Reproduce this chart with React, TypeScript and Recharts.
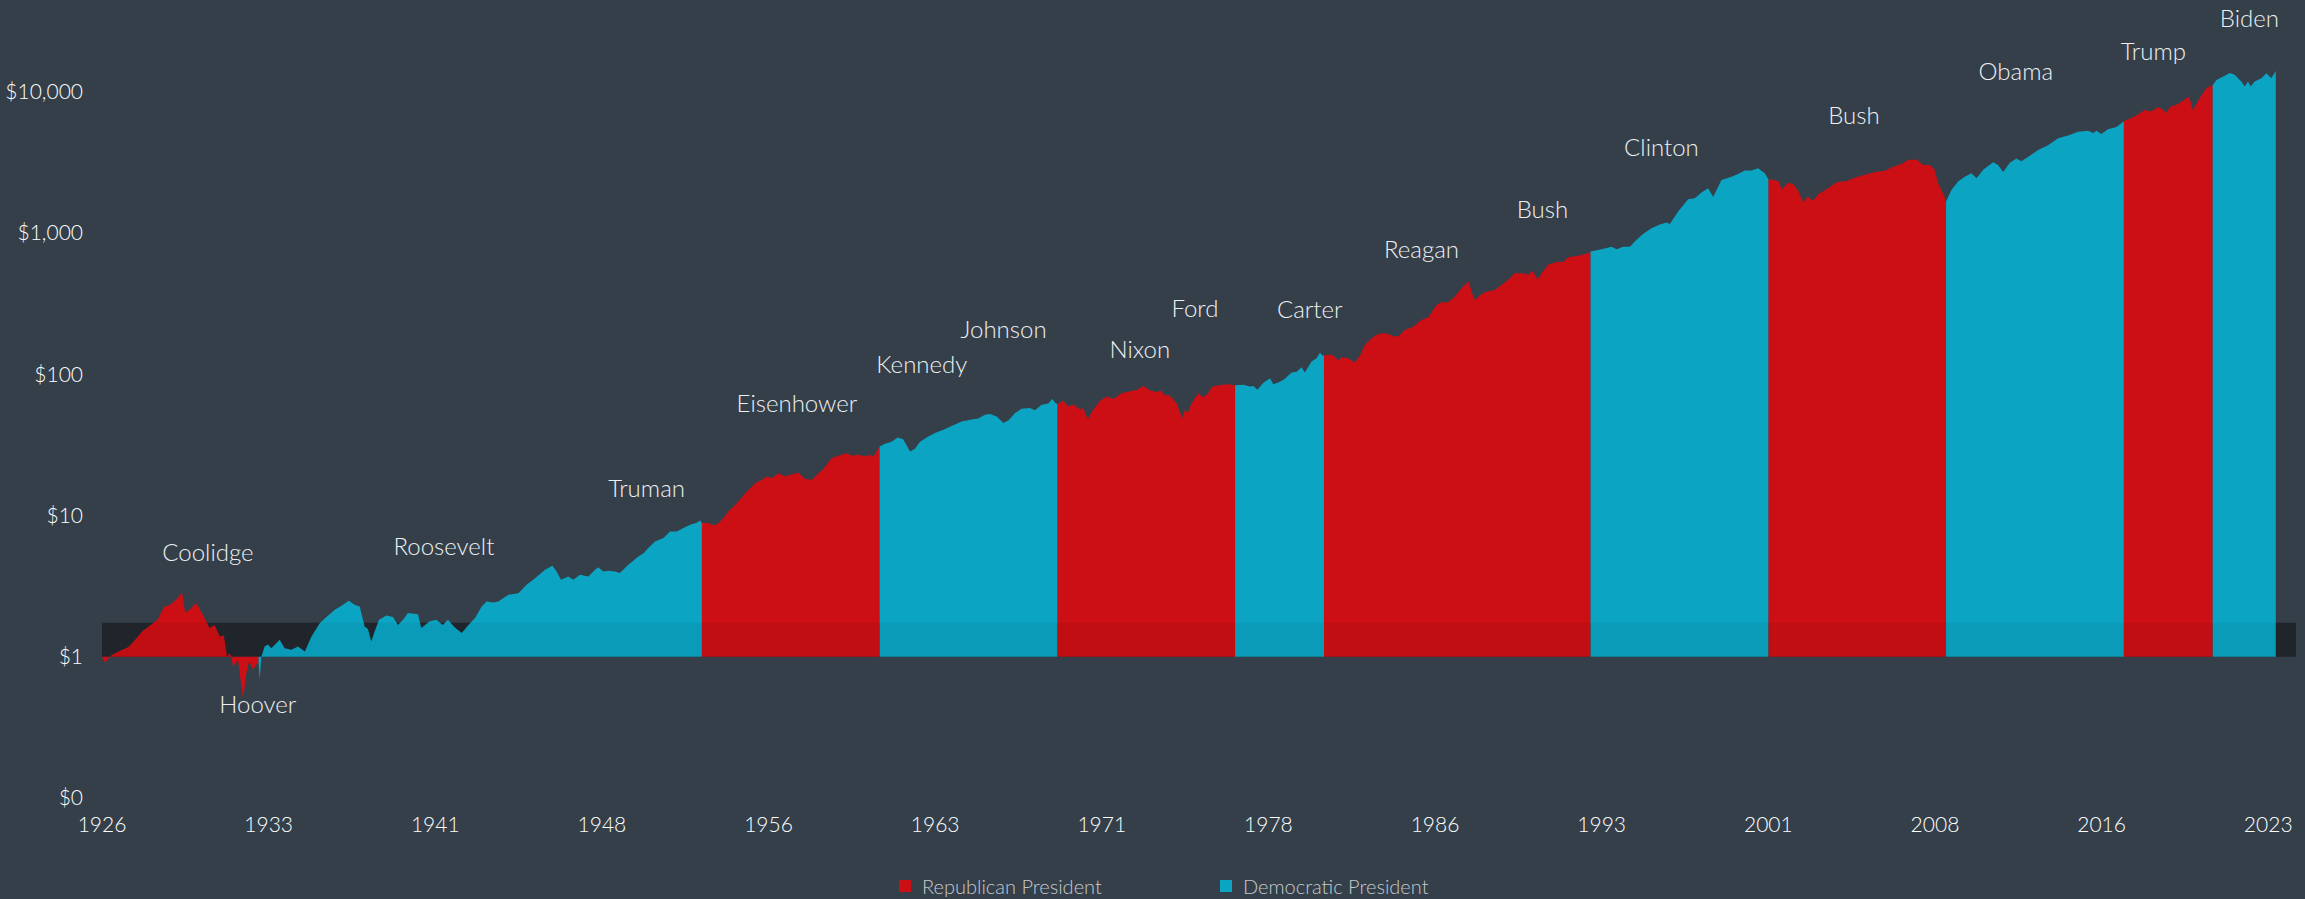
import { AreaChart, Area, XAxis, YAxis, ReferenceArea, ReferenceDot, Legend } from 'recharts'

document.body.style.margin = '0'
document.body.style.background = '#343f4a'

type Pt = [number, number]

// growth of $1: [year, value]
const coolidge: Pt[] = [
  [1926.0, 1.0], [1926.13, 0.91], [1926.44, 1.03], [1926.74, 1.09], [1927.19, 1.17], [1927.49, 1.32],
  [1927.8, 1.51], [1928.1, 1.64], [1928.5, 1.83], [1928.8, 2.27], [1928.96, 2.28],
]
const hoover: Pt[] = [
  [1929.17, 2.4], [1929.4, 2.6], [1929.6, 2.87], [1929.75, 2.04], [1929.94, 2.15], [1930.24, 2.4],
  [1930.54, 1.98], [1930.84, 1.6], [1931.07, 1.68], [1931.3, 1.39], [1931.48, 1.42], [1931.63, 1.0],
  [1931.75, 1.06], [1931.82, 1.0], [1931.9, 0.85], [1932.12, 0.95], [1932.35, 0.5], [1932.5, 0.77],
  [1932.62, 0.93], [1932.8, 0.81], [1932.95, 0.88],
]
const roosevelt: Pt[] = [
  [1933.05, 0.9], [1933.1, 0.69], [1933.17, 1.0], [1933.32, 1.18], [1933.47, 1.22], [1933.62, 1.15],
  [1934.0, 1.32], [1934.22, 1.15], [1934.52, 1.12], [1934.82, 1.18], [1935.13, 1.09], [1935.43, 1.39],
  [1935.8, 1.73], [1936.1, 1.91], [1936.48, 2.15], [1936.85, 2.33], [1937.1, 2.49], [1937.37, 2.33],
  [1937.6, 2.27], [1937.82, 1.64], [1937.97, 1.57], [1938.12, 1.28], [1938.27, 1.51], [1938.47, 1.83],
  [1938.8, 1.96], [1939.1, 1.91], [1939.32, 1.68], [1939.55, 1.83], [1939.77, 2.04], [1940.22, 2.0],
  [1940.37, 1.6], [1940.74, 1.78], [1941.04, 1.83], [1941.34, 1.68], [1941.57, 1.83], [1941.87, 1.62],
  [1942.19, 1.47], [1942.49, 1.68], [1942.79, 1.88], [1943.09, 2.27], [1943.31, 2.46], [1943.61, 2.42],
  [1943.84, 2.46], [1944.29, 2.75], [1944.74, 2.82], [1945.11, 3.23],
]
const truman: Pt[] = [
  [1945.49, 3.6], [1945.94, 4.13], [1946.27, 4.41], [1946.46, 4.02], [1946.66, 3.51], [1946.99, 3.7],
  [1947.21, 3.51], [1947.51, 3.8], [1947.89, 3.7], [1948.19, 4.13], [1948.34, 4.3], [1948.56, 4.02],
  [1948.79, 4.07], [1949.09, 4.02], [1949.31, 3.91], [1949.69, 4.48], [1950.14, 5.13], [1950.37, 5.4],
  [1950.59, 5.88], [1950.89, 6.55], [1951.27, 6.92], [1951.57, 7.71], [1951.87, 7.71], [1952.17, 8.14],
  [1952.47, 8.6], [1952.77, 8.9], [1952.92, 9.22],
]
const eisenhower: Pt[] = [
  [1953.0, 8.9], [1953.3, 8.8], [1953.6, 8.5], [1953.9, 9.3], [1954.2, 10.7], [1954.57, 12.2],
  [1954.95, 14.4], [1955.4, 16.9], [1955.7, 17.9], [1955.92, 18.9], [1956.15, 18.4], [1956.45, 19.95],
  [1956.75, 18.9], [1956.97, 19.4], [1957.35, 20.1], [1957.65, 18.1], [1957.95, 17.9], [1958.25, 19.95],
  [1958.47, 21.3], [1958.84, 25.5], [1959.29, 26.9], [1959.52, 27.6], [1959.74, 26.5], [1960.04, 26.9],
  [1960.34, 26.3], [1960.57, 26.9], [1960.72, 26.1], [1960.91, 29.2],
]
const kennedy: Pt[] = [
  [1961.0, 30.8], [1961.24, 32.2], [1961.54, 33.3], [1961.81, 35.7], [1962.06, 34.6], [1962.37, 28.4],
  [1962.59, 29.7], [1962.82, 33.3], [1963.19, 36.3], [1963.49, 38.3], [1963.87, 40.4],
]
const johnson: Pt[] = [
  [1964.24, 43.1], [1964.69, 46.3], [1965.14, 47.8], [1965.44, 48.6], [1965.74, 51.6], [1965.97, 52.4],
  [1966.27, 50.3], [1966.57, 45.1], [1966.79, 47.1], [1967.09, 52.9], [1967.39, 56.9], [1967.77, 57.6],
  [1967.99, 55.6], [1968.29, 60.7], [1968.59, 62.2], [1968.77, 66.7], [1968.92, 62.6],
]
const nixon: Pt[] = [
  [1969.0, 61.6], [1969.27, 64.9], [1969.49, 59.2], [1969.72, 61.0], [1970.02, 56.2], [1970.17, 57.6],
  [1970.36, 48.1], [1970.62, 56.2], [1970.92, 64.8], [1971.22, 69.5], [1971.52, 66.7], [1971.89, 73.5],
  [1972.27, 75.8], [1972.57, 77.2], [1972.87, 82.8], [1973.17, 76.6], [1973.47, 75], [1973.69, 76.6],
  [1973.77, 71.8], [1974.07, 70.4], [1974.37, 62],
]
const ford: Pt[] = [
  [1974.62, 48.9], [1974.74, 56], [1974.86, 53], [1975.04, 62.4], [1975.34, 73.5], [1975.57, 68.7],
  [1975.79, 73.5], [1975.97, 81.8], [1976.39, 84.4], [1976.77, 85], [1976.92, 83.5],
]
const carter: Pt[] = [
  [1977.0, 83.5], [1977.37, 84.4], [1977.67, 81.8], [1977.82, 82.7], [1978.01, 77.6], [1978.27, 86.9],
  [1978.57, 93.8], [1978.72, 85], [1979.02, 88.5], [1979.24, 92.8], [1979.54, 102.8], [1979.77, 104],
  [1979.99, 112], [1980.14, 102.8], [1980.44, 123], [1980.67, 130], [1980.82, 142.5], [1980.92, 136],
]
const reagan: Pt[] = [
  [1981.0, 136], [1981.27, 138], [1981.46, 134], [1981.64, 125], [1981.79, 132], [1982.09, 130],
  [1982.39, 121], [1982.62, 136], [1982.84, 161], [1983.14, 180], [1983.44, 193], [1983.82, 195],
  [1984.12, 186], [1984.34, 185], [1984.64, 206], [1985.02, 217], [1985.39, 243], [1985.69, 252],
  [1986.07, 310], [1986.29, 323], [1986.59, 323], [1986.89, 355], [1987.12, 395], [1987.34, 430],
  [1987.52, 453], [1987.64, 385], [1987.79, 336], [1988.02, 363], [1988.32, 385], [1988.69, 395],
]
const bushSr: Pt[] = [
  [1989.0, 430], [1989.29, 466], [1989.59, 519], [1989.97, 519], [1990.19, 506], [1990.37, 541],
  [1990.62, 470], [1990.79, 519], [1991.09, 595], [1991.47, 623], [1991.77, 623], [1991.99, 674],
  [1992.44, 690], [1992.89, 719],
]
const clinton: Pt[] = [
  [1993.0, 740], [1993.49, 768], [1993.94, 800], [1994.17, 768], [1994.47, 800], [1994.77, 800],
  [1994.99, 869], [1995.37, 986], [1995.74, 1082], [1996.12, 1147], [1996.42, 1188], [1996.57, 1160],
  [1996.94, 1418], [1997.39, 1734], [1997.69, 1760], [1997.99, 1932], [1998.29, 2075], [1998.52, 1800],
  [1998.89, 2377], [1999.34, 2500], [1999.64, 2620], [1999.94, 2766], [2000.24, 2766], [2000.54, 2870],
  [2000.84, 2650],
]
const bushJr: Pt[] = [
  [2001.0, 2400], [2001.22, 2377], [2001.44, 2330], [2001.62, 2042], [2001.89, 2270], [2002.12, 2220],
  [2002.34, 2000], [2002.57, 1641], [2002.76, 1810], [2003.02, 1690], [2003.24, 1880], [2003.69, 2075],
  [2004.07, 2290], [2004.52, 2330], [2004.97, 2490], [2005.34, 2580], [2005.79, 2700], [2006.24, 2760],
  [2006.62, 2940], [2006.99, 3080], [2007.29, 3290], [2007.67, 3310], [2007.97, 3034], [2008.27, 3034],
  [2008.49, 2800], [2008.64, 2250], [2008.79, 2018], [2008.93, 1800],
]
const obama: Pt[] = [
  [2009.0, 1668], [2009.24, 2018], [2009.54, 2311], [2009.84, 2500], [2010.14, 2650], [2010.37, 2440],
  [2010.67, 2800], [2011.12, 3170], [2011.34, 3034], [2011.57, 2700], [2011.87, 3140], [2012.17, 3370],
  [2012.39, 3220], [2012.69, 3450], [2013.14, 3873], [2013.59, 4180], [2014.04, 4690], [2014.49, 4900],
  [2014.94, 5200], [2015.39, 5300], [2015.62, 5100], [2015.77, 5300], [2015.99, 5020], [2016.29, 5420],
  [2016.67, 5620], [2016.89, 5980],
]
const trump: Pt[] = [
  [2017.0, 6180], [2017.49, 6670], [2017.94, 7430], [2018.24, 7260], [2018.54, 7800], [2018.69, 7620],
  [2018.92, 7100], [2019.07, 7800], [2019.44, 8180], [2019.82, 9000], [2019.95, 9200], [2020.1, 7400],
  [2020.3, 8400], [2020.49, 9400], [2020.72, 10590], [2020.85, 10900],
]
const biden: Pt[] = [
  [2021.0, 11170], [2021.17, 12110], [2021.54, 13000], [2021.77, 13600], [2021.99, 13200], [2022.29, 11800],
  [2022.44, 10900], [2022.59, 11800], [2022.71, 10900], [2022.89, 11800], [2023.19, 12480], [2023.42, 13520],
  [2023.64, 12480], [2023.84, 14000],
]

const presidents = [
  { name: 'Coolidge', party: 'R', points: coolidge },
  { name: 'Hoover', party: 'R', points: hoover },
  { name: 'Roosevelt', party: 'D', points: roosevelt },
  { name: 'Truman', party: 'D', points: truman },
  { name: 'Eisenhower', party: 'R', points: eisenhower },
  { name: 'Kennedy', party: 'D', points: kennedy },
  { name: 'Johnson', party: 'D', points: johnson },
  { name: 'Nixon', party: 'R', points: nixon },
  { name: 'Ford', party: 'R', points: ford },
  { name: 'Carter', party: 'D', points: carter },
  { name: 'Reagan', party: 'R', points: reagan },
  { name: 'Bush', party: 'R', points: bushSr },
  { name: 'Clinton', party: 'D', points: clinton },
  { name: 'Bush', party: 'R', points: bushJr },
  { name: 'Obama', party: 'D', points: obama },
  { name: 'Trump', party: 'R', points: trump },
  { name: 'Biden', party: 'D', points: biden },
]

// where each name sits, in chart units [year, value]
const nameLabels: [string, number, number][] = [
  ['Coolidge', 1930.77, 5.47], ['Hoover', 1933.01, 0.457], ['Roosevelt', 1941.39, 6.0],
  ['Truman', 1950.51, 15.6], ['Eisenhower', 1957.28, 61.8], ['Kennedy', 1962.9, 116.6],
  ['Johnson', 1966.58, 206], ['Nixon', 1972.71, 149], ['Ford', 1975.19, 290], ['Carter', 1980.36, 286],
  ['Reagan', 1985.39, 760], ['Bush', 1990.83, 1458], ['Clinton', 1996.19, 4020], ['Bush', 2004.85, 6745],
  ['Obama', 2012.14, 13870], ['Trump', 2018.33, 19230], ['Biden', 2022.65, 32760],
]

const xTicks = [1926, 1933.5, 1941, 1948.5, 1956, 1963.5, 1971, 1978.5, 1986, 1993.5, 2001, 2008.5, 2016, 2023.5]
const yTicks = [0.1, 1, 10, 100, 1000, 10000]
const legendOrder = ['rep', 'dem']

const RED = '#cc0f14'
const BLUE = '#0ba4c2'
const FONT = 'Lato, "Noto Sans", sans-serif'
const partyKey = (p: string) => (p === 'R' ? 'rep' : 'dem')

const rows: { t: number; rep: number | null; dem: number | null }[] = []
presidents.forEach((p, i) => {
  const prev = presidents[i - 1]
  p.points.forEach(([t, v], j) => {
    const row: any = { t, rep: null, dem: null }
    row[partyKey(p.party)] = v
    // share the first point with the outgoing party so the edge is vertical
    if (j === 0 && prev && prev.party !== p.party) row[partyKey(prev.party)] = v
    rows.push(row)
  })
})

const fmtY = (v: number) => (v < 1 ? '$0' : '$' + v.toLocaleString('en-US'))

const renderLegend = (props: any) => {
  const colors: Record<string, string> = { rep: RED, dem: BLUE }
  const items = [...(props.payload || [])].sort(
    (a: any, b: any) => legendOrder.indexOf(a.dataKey) - legendOrder.indexOf(b.dataKey)
  )
  return (
    <div style={{ display: 'flex', fontFamily: FONT, fontWeight: 300, fontSize: 20, color: '#c5c9cd', lineHeight: '30px' }}>
      {items.map((e: any) => (
        <div key={e.dataKey} style={{ display: 'flex', alignItems: 'center', width: 321 }}>
          <span style={{ width: 12, height: 12, background: colors[e.dataKey], marginRight: 11 }} />
          <span>{e.value}</span>
        </div>
      ))}
    </div>
  )
}

export default function App() {
  return (
    <div style={{ width: 2305, height: 899, background: '#343f4a' }}>
      <AreaChart width={2305} height={899} data={rows} margin={{ top: 7, right: 9, bottom: 61, left: 12 }}>
        <XAxis
          dataKey="t"
          type="number"
          domain={[1926, 2024.75]}
          allowDataOverflow
          ticks={xTicks}
          tickFormatter={(v) => String(Math.floor(v))}
          axisLine={false}
          tickLine={false}
          tickSize={0}
          tickMargin={19}
          height={40}
          tick={{ fill: '#ffffff', fontSize: 21, fontFamily: FONT, fontWeight: 300 }}
        />
        <YAxis
          scale="log"
          domain={[0.1, 39810]}
          allowDataOverflow
          ticks={yTicks}
          tickFormatter={fmtY}
          axisLine={false}
          tickLine={false}
          tickSize={0}
          tickMargin={19}
          width={90}
          tick={{ fill: '#ffffff', fontSize: 21, fontFamily: FONT, fontWeight: 300 }}
        />
        <ReferenceArea x1={1926} x2={2024.75} y1={1} y2={1.74} fill="#21272d" fillOpacity={1} stroke="none" zIndex={-10} />
        <Area
          type="linear"
          dataKey="rep"
          name="Republican President"
          baseValue={1}
          stroke="none"
          fill={RED}
          fillOpacity={1}
          dot={false}
          activeDot={false}
          isAnimationActive={false}
        />
        <Area
          type="linear"
          dataKey="dem"
          name="Democratic President"
          baseValue={1}
          stroke="none"
          fill={BLUE}
          fillOpacity={1}
          dot={false}
          activeDot={false}
          isAnimationActive={false}
        />
        <ReferenceArea x1={1926} x2={2024.75} y1={1} y2={1.74} fill="#000000" fillOpacity={0.05} stroke="none" zIndex={150} />
        {nameLabels.map(([name, x, y], i) => (
          <ReferenceDot
            key={i}
            x={x}
            y={y}
            r={0}
            ifOverflow="visible"
            label={{ value: name, position: 'center', fill: '#eef0f2', fontSize: 24, fontFamily: FONT, fontWeight: 300 }}
          />
        ))}
        <Legend
          verticalAlign="middle"
          align="center"
          layout="horizontal"
          wrapperStyle={{ top: 871, left: 899, width: 700 }}
          content={renderLegend}
        />
      </AreaChart>
    </div>
  )
}
